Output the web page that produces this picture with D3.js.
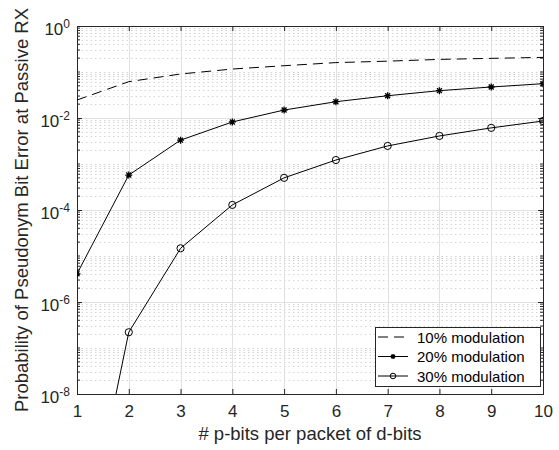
<!DOCTYPE html>
<html>
<head>
<meta charset="utf-8">
<script src="https://cdn.jsdelivr.net/npm/d3@7"></script>
<style>
  body { margin: 0; background: #fff; }
  text { font-family: "Liberation Sans", Arial, Helvetica, sans-serif; }
</style>
</head>
<body>
<script>
// values
const pbits = [1, 2, 3, 4, 5, 6, 7, 8, 9, 10]
const mod10 = [0.0246, 0.0616, 0.0905, 0.116, 0.137, 0.160, 0.172, 0.188, 0.198, 0.208]
const mod20 = [4.1e-6, 5.75e-4, 3.3e-3, 8.2e-3, 0.0149, 0.0226, 0.0305, 0.0393, 0.0472, 0.0557]
const mod30 = [8e-13, 2.2e-7, 1.47e-5, 1.29e-4, 5.0e-4, 1.22e-3, 2.47e-3, 4.07e-3, 6.1e-3, 8.6e-3]

const xTicks = [1, 2, 3, 4, 5, 6, 7, 8, 9, 10]
const yTickExp = [-8, -6, -4, -2, 0]
const legendLabels = ["10% modulation", "20% modulation", "30% modulation"]

let W = 559, H = 450
let margin = {top: 26, right: 16, bottom: 56, left: 77}
let width = W - margin.left - margin.right,
    height = H - margin.top - margin.bottom

const axisCol = "#262626"

let svg = d3.select("body").append("svg")
  .attr("width", W).attr("height", H)

let g = svg.append("g")
  .attr("transform", "translate(" + margin.left + "," + margin.top + ")")

let x = d3.scaleLinear().domain([1, 10]).range([0, width])
let y = d3.scaleLog().domain([1e-8, 1]).range([height, 0])

// minor tick positions (2..9 x 10^k, plus the odd decades)
let minor = []
for (let k = -8; k < 0; k++) {
  for (let m = 1; m <= 9; m++) {
    let v = m * Math.pow(10, k)
    if (m === 1 && yTickExp.includes(k)) continue
    minor.push(v)
  }
}
let major = yTickExp.map(e => Math.pow(10, e))

// minor grid (dotted)
g.append("g").selectAll("line").data(minor).enter().append("line")
  .attr("x1", 0).attr("x2", width)
  .attr("y1", d => Math.round(y(d)) + 0.5).attr("y2", d => Math.round(y(d)) + 0.5)
  .attr("stroke", "#d4d4d4").attr("stroke-width", 1)
  .attr("stroke-dasharray", "1.5,3")

// major grid
g.append("g").selectAll("line").data(major).enter().append("line")
  .attr("x1", 0).attr("x2", width)
  .attr("y1", d => Math.round(y(d)) + 0.5).attr("y2", d => Math.round(y(d)) + 0.5)
  .attr("stroke", "#e0e0e0")
g.append("g").selectAll("line").data(xTicks).enter().append("line")
  .attr("y1", 0).attr("y2", height)
  .attr("x1", d => Math.round(x(d)) + 0.5).attr("x2", d => Math.round(x(d)) + 0.5)
  .attr("stroke", "#e0e0e0")

// x axes bottom + top, ticks inward
let xb = g.append("g").attr("transform", "translate(0," + height + ")")
  .call(d3.axisBottom(x).tickValues(xTicks).tickSize(-5).tickPadding(11).tickFormat(d3.format("d")))
let xt = g.append("g")
  .call(d3.axisTop(x).tickValues(xTicks).tickSize(-5).tickFormat(""))
;[xb, xt].forEach(a => {
  a.select(".domain").remove()
  a.selectAll("line").attr("stroke", axisCol)
  a.selectAll("text").attr("fill", axisCol).style("font-size", "17px")
})

// y axes left + right
let yl = g.append("g").call(d3.axisLeft(y).tickValues(major).tickSize(-5).tickFormat(""))
let yr = g.append("g").attr("transform", "translate(" + width + ",0)")
  .call(d3.axisRight(y).tickValues(major).tickSize(-5).tickFormat(""))
;[yl, yr].forEach(a => {
  a.select(".domain").remove()
  a.selectAll("line").attr("stroke", axisCol)
})
// minor ticks
g.append("g").selectAll("line").data(minor).enter().append("line")
  .attr("x1", 0).attr("x2", 3)
  .attr("y1", d => y(d)).attr("y2", d => y(d))
  .attr("stroke", axisCol)
g.append("g").selectAll("line").data(minor).enter().append("line")
  .attr("x1", width - 3).attr("x2", width)
  .attr("y1", d => y(d)).attr("y2", d => y(d))
  .attr("stroke", axisCol)

// y tick labels 10^k
let ylTxt = g.append("g").selectAll("text").data(yTickExp).enter().append("text")
  .attr("x", -7).attr("y", d => y(Math.pow(10, d)) + 9)
  .attr("text-anchor", "end").attr("fill", axisCol).style("font-size", "17px")
ylTxt.append("tspan").text("10")
ylTxt.append("tspan").attr("dy", -7.5).style("font-size", "12px").text(d => d)

// box
g.append("rect").attr("x", 0.5).attr("y", 0.5).attr("width", width).attr("height", height)
  .attr("fill", "none").attr("stroke", axisCol)

// lines
svg.append("clipPath").attr("id", "clip").append("rect")
  .attr("width", width).attr("height", height)

let plot = g.append("g").attr("clip-path", "url(#clip)")
let line = d3.line().x((d, i) => x(pbits[i])).y(d => y(d))

plot.append("path").datum(mod10).attr("d", line)
  .attr("fill", "none").attr("stroke", "#000").attr("stroke-width", 1)
  .attr("stroke-dasharray", "10,6")
plot.append("path").datum(mod20).attr("d", line)
  .attr("fill", "none").attr("stroke", "#000").attr("stroke-width", 1)
plot.append("path").datum(mod30).attr("d", line)
  .attr("fill", "none").attr("stroke", "#000").attr("stroke-width", 1)

function star(r) {
  let a = r * Math.SQRT1_2
  return "M" + (-r) + ",0L" + r + ",0M0," + (-r) + "L0," + r +
    "M" + (-a) + "," + (-a) + "L" + a + "," + a + "M" + (-a) + "," + a + "L" + a + "," + (-a)
}

plot.append("g").selectAll("path").data(mod20).enter().append("path")
  .attr("transform", (d, i) => "translate(" + x(pbits[i]) + "," + y(d) + ")")
  .attr("d", star(3.5)).attr("stroke", "#000").attr("stroke-width", 1.3).attr("fill", "none")
plot.append("g").selectAll("circle").data(mod30).enter().append("circle")
  .attr("cx", (d, i) => x(pbits[i])).attr("cy", d => y(d)).attr("r", 3.6)
  .attr("fill", "none").attr("stroke", "#000").attr("stroke-width", 1)

// axis labels
svg.append("text")
  .attr("x", margin.left + width / 2).attr("y", 440)
  .attr("text-anchor", "middle").attr("fill", axisCol).style("font-size", "18.5px")
  .text("# p-bits per packet of d-bits")
svg.append("text")
  .attr("transform", "translate(28," + (margin.top + height / 2) + ") rotate(-90)")
  .attr("text-anchor", "middle").attr("fill", axisCol).style("font-size", "18.5px")
  .text("Probability of Pseudonym Bit Error at Passive RX")

// legend
let lg = svg.append("g").attr("transform", "translate(375,327)")
lg.append("rect").attr("x", 0.5).attr("y", 0.5).attr("width", 165).attr("height", 59)
  .attr("fill", "#fff").attr("stroke", axisCol)
legendLabels.forEach((lab, i) => {
  let cy = 10 + i * 19.5
  let ln = lg.append("line").attr("x1", 3).attr("x2", 33).attr("y1", cy).attr("y2", cy)
    .attr("stroke", "#000")
  if (i === 0) ln.attr("stroke-dasharray", "10,6")
  if (i === 1) lg.append("path").attr("transform", "translate(18," + cy + ")")
    .attr("d", star(2.5)).attr("stroke", "#000").attr("stroke-width", 1.3)
  if (i === 2) lg.append("circle").attr("cx", 18).attr("cy", cy).attr("r", 2.8)
    .attr("fill", "none").attr("stroke", "#000")
  lg.append("text").attr("x", 42).attr("y", cy + 5.5).attr("fill", "#000")
    .style("font-size", "15px").text(lab)
})
</script>
</body>
</html>
